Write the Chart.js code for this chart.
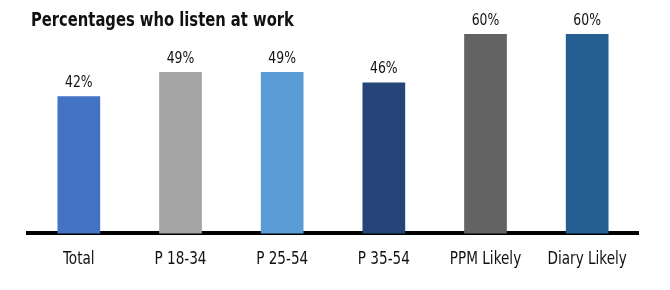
<!DOCTYPE html>
<html>
<head>
<meta charset="utf-8">
<script src="https://cdn.jsdelivr.net/npm/chart.js@4"></script>
<style>
  html, body { margin: 0; padding: 0; background: #fff; }
  #wrap { width: 670px; height: 290px; position: relative; }
</style>
</head>
<body>
<div id="wrap"><canvas id="chart"></canvas></div>
<script>
const title = 'Percentages who listen at work';
const categories = ['Total', 'P 18-34', 'P 25-54', 'P 35-54', 'PPM Likely', 'Diary Likely'];
const values = [42, 49, 49, 46, 60, 60];
const barColors = ['#4472C4', '#A5A5A5', '#5B9BD5', '#264478', '#636363', '#255E91'];

const FONT = '"DejaVu Sans Condensed", "Liberation Sans Narrow", Arial, sans-serif';

// the original uses a narrow face; squeeze text horizontally to get close
function squeezed(ctx, text, x, y, sx, align) {
  ctx.save();
  ctx.translate(x, y);
  ctx.scale(sx, 1);
  ctx.textAlign = align;
  ctx.fillText(text, 0, 0);
  ctx.restore();
}

const labelsPlugin = {
  id: 'labels',
  afterDraw(chart) {
    const ctx = chart.ctx;
    const meta = chart.getDatasetMeta(0);
    const xs = chart.scales.x;
    ctx.save();
    ctx.fillStyle = '#111';
    ctx.textBaseline = 'alphabetic';

    ctx.font = '15px ' + FONT;
    meta.data.forEach((bar, i) => {
      squeezed(ctx, values[i] + '%', bar.x, bar.y - 9, 0.92, 'center');
    });

    ctx.font = '18px ' + FONT;
    categories.forEach((c, i) => {
      squeezed(ctx, c, xs.getPixelForTick(i), chart.chartArea.bottom + 31, 0.84, 'center');
    });

    ctx.font = 'bold 20px ' + FONT;
    squeezed(ctx, title, 31, 26, 0.82, 'left');
    ctx.restore();
  },
};

new Chart(document.getElementById('chart'), {
  type: 'bar',
  data: {
    labels: categories,
    datasets: [
      {
        data: values,
        backgroundColor: barColors,
        borderWidth: 0,
        barPercentage: 1,
        categoryPercentage: 0.42,
      },
    ],
  },
  options: {
    responsive: true,
    maintainAspectRatio: false,
    animation: false,
    layout: { padding: { left: 28, right: 32, top: 34, bottom: 5 } },
    plugins: { legend: { display: false }, tooltip: { enabled: false } },
    scales: {
      x: {
        grid: { display: false, drawTicks: false },
        border: { display: true, color: '#000', width: 4 },
        ticks: {
          color: 'rgba(0,0,0,0)',
          padding: 15,
          font: { family: FONT, size: 18 },
        },
      },
      y: {
        display: false,
        min: 2.4,
        max: 60,
      },
    },
  },
  plugins: [labelsPlugin],
});
</script>
</body>
</html>
